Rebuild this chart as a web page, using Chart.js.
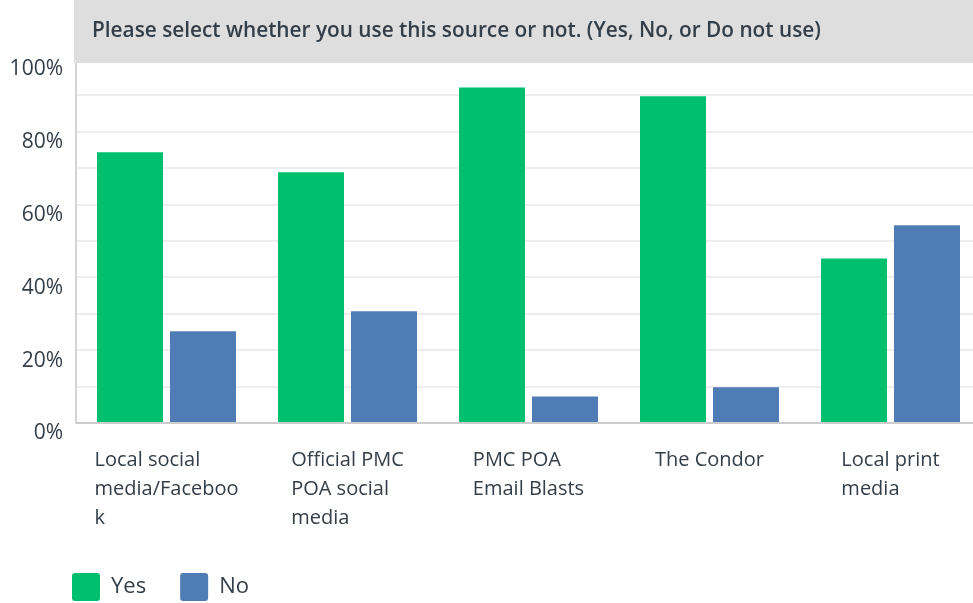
<!DOCTYPE html>
<html>
<head>
<meta charset="utf-8">
<script src="https://cdn.jsdelivr.net/npm/chart.js@4.4.1/dist/chart.umd.min.js"></script>
<style>
html,body{margin:0;padding:0;overflow:hidden;background:#ffffff;}
#wrap{position:relative;width:981px;height:603px;}
</style>
</head>
<body>
<div id="wrap"><canvas id="c" width="981" height="603"></canvas></div>
<script>
// ---- data ----
const titleText = 'Please select whether you use this source or not. (Yes, No, or Do not use)';
const categories = [
  ['Local social', 'media/Faceboo', 'k'],
  ['Official PMC', 'POA social', 'media'],
  ['PMC POA', 'Email Blasts'],
  ['The Condor'],
  ['Local print', 'media']
];
const seriesNames = ['Yes', 'No'];
const yesValues = [74.4, 68.9, 92.2, 89.8, 45.2];
const noValues  = [25.2, 30.7, 7.3, 9.8, 54.3];
const yTickLabels = [0, 20, 40, 60, 80, 100];

// ---- styles ----
const TEXT = '#333e48';
const FONT = "'Open Sans', 'Noto Sans', sans-serif";
const colors = ['#00bf6f', '#507cb6'];
Chart.defaults.font.family = FONT;
Chart.defaults.color = TEXT;

const titleBar = {
  id: 'titleBar',
  afterDraw(chart) {
    const ctx = chart.ctx;
    const left = chart.chartArea.left - 2;
    ctx.save();
    ctx.fillStyle = '#dedede';
    ctx.fillRect(left, 0, chart.width - left, 63);
    ctx.fillStyle = TEXT;
    ctx.font = "600 20.8px " + FONT;
    ctx.textAlign = 'left';
    ctx.textBaseline = 'middle';
    ctx.fillText(titleText, left + 18, 31);
    ctx.restore();
  }
};

// category labels: block centred under each category, lines left-aligned
const xLabels = {
  id: 'xLabels',
  afterDraw(chart) {
    const s = chart.scales.x;
    const ctx = chart.ctx;
    ctx.save();
    ctx.font = "20px " + FONT;
    ctx.fillStyle = TEXT;
    ctx.textAlign = 'left';
    ctx.textBaseline = 'middle';
    categories.forEach((lines, i) => {
      const cx = s.getPixelForValue(i);
      const w = Math.max(...lines.map(l => ctx.measureText(l).width));
      lines.forEach((l, j) => ctx.fillText(l, cx - w / 2, s.top + 37 + j * 29));
    });
    ctx.restore();
  }
};

// value-axis labels, set slightly below their gridlines
const yLabels = {
  id: 'yLabels',
  afterDraw(chart) {
    const s = chart.scales.y;
    const ctx = chart.ctx;
    ctx.save();
    ctx.font = "21px " + FONT;
    ctx.fillStyle = TEXT;
    ctx.textAlign = 'right';
    ctx.textBaseline = 'middle';
    yTickLabels.forEach(v => {
      ctx.fillText(v + '%', s.right - 13, s.getPixelForValue(v) + 10.5);
    });
    ctx.restore();
  }
};

new Chart(document.getElementById('c'), {
  type: 'bar',
  data: {
    labels: categories.map(l => l.join(' ')),
    datasets: [
      { label: seriesNames[0], data: yesValues, backgroundColor: colors[0], borderWidth: 0 },
      { label: seriesNames[1], data: noValues, backgroundColor: colors[1], borderWidth: 0 }
    ]
  },
  options: {
    responsive: false,
    animation: false,
    devicePixelRatio: 1,
    categoryPercentage: 0.8066,
    barPercentage: 0.904,
    layout: { padding: { top: 59, left: 38, right: 0, bottom: -8 } },
    plugins: {
      tooltip: { enabled: false },
      title: { display: false },
      legend: {
        position: 'bottom',
        align: 'start',
        labels: {
          boxWidth: 28, boxHeight: 28, padding: 34,
          useBorderRadius: true, borderRadius: 3,
          color: TEXT,
          font: { size: 22, family: FONT }
        }
      }
    },
    scales: {
      x: {
        grid: { display: false, drawTicks: false },
        border: { display: true, color: '#cccccc', width: 2 },
        ticks: { display: false },
        afterFit: s => { s.height = 116; }
      },
      y: {
        min: 0, max: 100,
        grid: { color: '#eeeeee', lineWidth: 2, drawTicks: false },
        border: { display: true, color: '#d4d4d4', width: 2 },
        afterFit: s => { s.width = 38; },
        ticks: { stepSize: 10, autoSkip: false, display: false }
      }
    }
  },
  plugins: [titleBar, xLabels, yLabels]
});
</script>
</body>
</html>
